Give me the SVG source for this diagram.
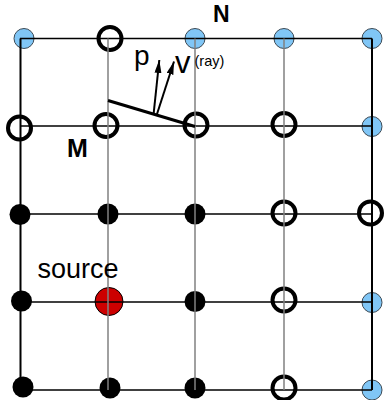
<svg xmlns="http://www.w3.org/2000/svg" width="384" height="400" viewBox="0 0 384 400">
<style>
.h{stroke:#000;stroke-width:1.5}
.vi{stroke:#808080;stroke-width:1.5}
.vo{stroke:#000;stroke-width:2}
.blue{fill:#80c6f6;stroke:#3c4a55;stroke-width:1}
.open{fill:none;stroke:#000;stroke-width:4}
.dot{fill:#000}
.src{fill:#cc0000;stroke:#000;stroke-width:1}
.lbl{font-family:"Liberation Sans",Arial,sans-serif;fill:#000}
.b{font-weight:bold}
.arr{stroke:#000;stroke-width:2;fill:none}
</style>
<defs>
<marker id="ah" markerUnits="userSpaceOnUse" markerWidth="14" markerHeight="8" refX="13" refY="3.5" orient="auto">
<path d="M0,0 L13,3.5 L0,7 Z" fill="#000"/>
</marker>
</defs>
<rect width="384" height="400" fill="#fff"/>
<g id="nodes">
<g id="n00"><circle class="blue" cx="24" cy="38.5" r="10"/></g>
<g id="n01"><circle class="open" cx="110" cy="38.5" r="11.5"/></g>
<g id="n02"><circle class="blue" cx="195" cy="38.5" r="10"/></g>
<g id="n03"><circle class="blue" cx="284" cy="38.5" r="10"/></g>
<g id="n04"><circle class="blue" cx="372" cy="38.5" r="10"/></g>
<g id="n10"><circle class="open" cx="19.5" cy="128" r="11.5"/></g>
<g id="n11"><circle class="open" cx="106" cy="125.5" r="11.5"/></g>
<g id="n12"><circle class="open" cx="196" cy="125" r="11.5"/></g>
<g id="n13"><circle class="open" cx="284" cy="124.5" r="11.5"/></g>
<g id="n14"><circle class="blue" cx="372" cy="126.5" r="10"/></g>
<g id="n20"><circle class="dot" cx="20" cy="214.5" r="10.5"/></g>
<g id="n21"><circle class="dot" cx="108" cy="214" r="10.5"/></g>
<g id="n22"><circle class="dot" cx="195" cy="214" r="10.5"/></g>
<g id="n23"><circle class="open" cx="284" cy="213" r="11.5"/></g>
<g id="n24"><circle class="open" cx="370.5" cy="213" r="11.5"/></g>
<g id="n30"><circle class="dot" cx="21.5" cy="301" r="10.5"/></g>
<g id="n31"><circle class="src" cx="109" cy="301.5" r="14"/></g>
<g id="n32"><circle class="dot" cx="195" cy="301.5" r="10.5"/></g>
<g id="n33"><circle class="open" cx="284" cy="300" r="11.5"/></g>
<g id="n34"><circle class="blue" cx="372" cy="302.5" r="10"/></g>
<g id="n40"><circle class="dot" cx="23" cy="387" r="10.5"/></g>
<g id="n41"><circle class="dot" cx="110" cy="388" r="10.5"/></g>
<g id="n42"><circle class="dot" cx="195" cy="388" r="10.5"/></g>
<g id="n43"><circle class="open" cx="284" cy="388" r="11.5"/></g>
<g id="n44"><circle class="blue" cx="372" cy="390" r="10"/></g>
</g>
<g id="connectors">
<line class="h" x1="20" y1="38.5" x2="372" y2="38.5"/>
<line class="h" x1="20" y1="126" x2="372" y2="126"/>
<line class="h" x1="20" y1="214" x2="372" y2="214"/>
<line class="h" x1="20" y1="302" x2="372" y2="302"/>
<line class="h" x1="20" y1="390" x2="372" y2="390"/>
<line class="vi" x1="108" y1="38.5" x2="108" y2="390"/>
<line class="vi" x1="195" y1="38.5" x2="195" y2="390"/>
<line class="vi" x1="284" y1="38.5" x2="284" y2="390"/>
<line class="vo" x1="20.5" y1="38.5" x2="20.5" y2="390"/>
<line class="vo" x1="372" y1="38.5" x2="372" y2="390"/>
<line x1="108" y1="100.5" x2="195" y2="126.5" stroke="#000" stroke-width="3"/>
<line class="arr" x1="153.5" y1="115" x2="159.3" y2="60" marker-end="url(#ah)"/>
<line class="arr" x1="156.7" y1="115" x2="174" y2="61.5" marker-end="url(#ah)"/>
</g>
<g id="labels">
<text class="lbl b" x="213" y="22" font-size="23">N</text>
<text class="lbl b" x="67" y="157" font-size="25">M</text>
<text class="lbl" x="134" y="64.5" font-size="28">p</text>
<text class="lbl" x="175" y="73" font-size="31">v</text>
<text class="lbl" x="194.5" y="65.5" font-size="14.5">(ray)</text>
<text class="lbl" x="37.5" y="278" font-size="27">source</text>
</g>
</svg>
